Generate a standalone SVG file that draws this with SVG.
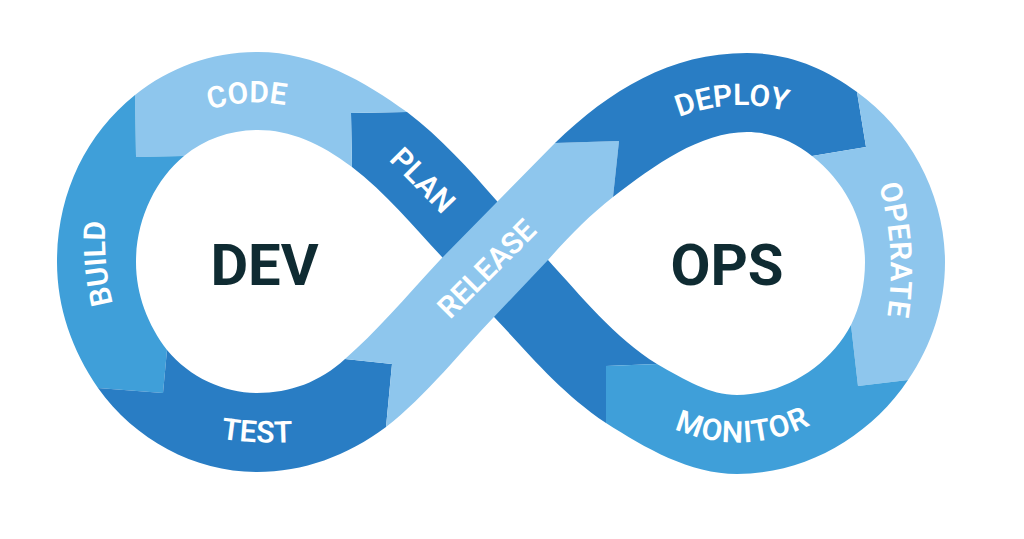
<svg xmlns="http://www.w3.org/2000/svg" width="1024" height="539" viewBox="0 0 1024 539">
<style>
.light{fill:#8EC6ED}.mid{fill:#3F9FD9}.dark{fill:#297DC4}
.lbl{font-family:Roboto,"Liberation Sans",sans-serif;font-size:30px;font-weight:600;fill:#fff;text-anchor:middle}
.big{font-family:Roboto,"Liberation Sans",sans-serif;font-size:58px;font-weight:700;fill:#0F2B32;text-anchor:middle}
</style>
<defs>
<path id="p-code" d="M186,119 Q248,90 310,112"/>
<path id="p-plan" d="M368,140 Q415,186 462,236"/>
<path id="p-build" d="M120,327 Q98,264 108,197"/>
<path id="p-test" d="M185,431 Q257,450 329,438"/>
<path id="p-release" d="M419,351 L569,201"/>
<path id="p-deploy" d="M640,137 Q735,78 827,128"/>
<path id="p-operate" d="M871,160 Q904,252 882,342"/>
<path id="p-monitor" d="M637,408 Q742,480 848,402"/>
</defs>
<rect width="1024" height="539" fill="#fff"/>
<g id="plan"><path class="dark" d="M351,113 L407,112 C440,137 470,170 496,200 L508,214 L454,271 L442,257 C415,228 385,192 352,167 Z"/><text class="lbl"><textPath href="#p-plan" startOffset="50%">PLAN</textPath></text></g>
<g id="monitor-lead"><path class="dark" d="M536,247 L548,260 C580,295 615,338 657,364 L606,366 L606,423 C560,392 530,355 495,318 L483,305 Z"/></g>
<g id="code"><path class="light" d="M135,95 C170,67 212,52 258,52 C315,52 365,82 407,112 L351,113 L352,167 C320,143 290,130 258,130 C230,130 205,139 184,156 L136,157 Z"/><text class="lbl"><textPath href="#p-code" startOffset="50%">CODE</textPath></text></g>
<g id="build"><path class="mid" d="M135,95 C85,135 57,195 57,262 C57,308 72,350 98,388 L163,393 L167,350 C148,325 136,295 136,262 C136,220 155,180 184,156 L136,157 Z"/><text class="lbl"><textPath href="#p-build" startOffset="50%">BUILD</textPath></text></g>
<g id="test"><path class="dark" d="M98,388 L163,393 L167,350 C190,378 225,393 257,393 C290,393 320,382 345,359 L392,364 L386,427 C347,456 303,472 257,472 C195,472 135,440 98,388 Z"/><text class="lbl"><textPath href="#p-test" startOffset="50%">TEST</textPath></text></g>
<g id="release"><path class="light" d="M345,359 C375,333 405,298 440,260 L555,143 L619,141 L613,197 C590,215 570,235 548,260 L493,318 C465,347 425,397 386,427 L392,364 Z"/><text class="lbl"><textPath href="#p-release" startOffset="50%">RELEASE</textPath></text></g>
<g id="deploy"><path class="dark" d="M555,143 L619,141 L613,197 C655,165 700,132 747,132 C772,132 795,142 812,156 L866,147 L857,92 C825,68 788,53 747,53 C670,53 610,90 555,143 Z"/><text class="lbl"><textPath href="#p-deploy" startOffset="50%">DEPLOY</textPath></text></g>
<g id="operate"><path class="light" d="M857,92 L866,147 L812,156 C845,182 865,220 865,262 C865,285 860,307 851,325 L858,386 L908,380 C932,345 945,305 945,262 C945,195 910,130 857,92 Z"/><text class="lbl" style="letter-spacing:.5px"><textPath href="#p-operate" startOffset="50%">OPERATE</textPath></text></g>
<g id="monitor"><path class="mid" d="M606,366 L657,364 C685,380 710,395 737,395 C785,395 830,365 851,325 L858,386 L908,380 C870,437 805,474 737,474 C690,474 645,448 606,423 Z"/><text class="lbl" style="letter-spacing:1.200px"><textPath href="#p-monitor" startOffset="50%">MONITOR</textPath></text></g>
<g id="dev"><text class="big" x="264.500" y="285">DEV</text></g>
<g id="ops"><text class="big" x="727" y="285">OPS</text></g>
</svg>
